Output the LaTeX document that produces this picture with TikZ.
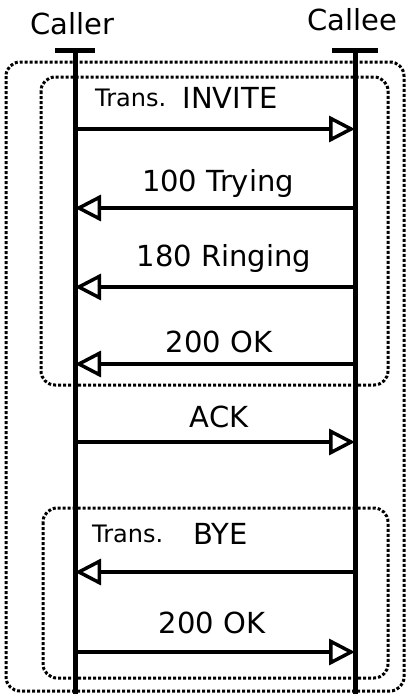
\documentclass[tikz,border=0pt]{standalone}
\usepackage{fontspec}
\setmainfont{DejaVu Sans}
\usetikzlibrary{arrows.meta, positioning}

\begin{document}
\begin{tikzpicture}[x=1pt, y=-1pt,
        life/.style={line width=5pt},
        msg/.style={line width=3.5pt, -{Triangle[open, length=26pt, width=26pt, line width=3.5pt]}},
        trans/.style={line width=3pt, dash pattern=on 3pt off 2pt, rounded corners=14pt},
        lbl/.style={inner sep=0pt, font=\fontsize{29}{34}\selectfont},
        small/.style={inner sep=0pt, font=\fontsize{24}{28}\selectfont}]
        \useasboundingbox (0,0) rectangle (407,694);

        % transaction boxes
        \draw[trans] (6,62) rectangle (404,691);
        \draw[trans] (41,77) rectangle (388,385);
        \draw[trans] (43,508) rectangle (388,678);

        % actors and lifelines
        \node[lbl] (caller) at (72,24) {Caller};
        \node[lbl] (callee) at (352,20) {Callee};
        \coordinate (ca) at (75,50);
        \coordinate (ce) at (355,50);
        \coordinate (caend) at (75,694);
        \coordinate (ceend) at (355,694);
        \draw[life] ([xshift=-20pt]ca) -- ([xshift=20pt]ca);
        \draw[life] ([xshift=-23pt]ce) -- ([xshift=23pt]ce);
        \draw[life] (ca) -- (caend);
        \draw[life] (ce) -- (ceend);

        % message ends
        \coordinate (a1) at (75,129);  \coordinate (b1) at (355,129);
        \coordinate (a2) at (75,208);  \coordinate (b2) at (355,208);
        \coordinate (a3) at (75,287);  \coordinate (b3) at (355,287);
        \coordinate (a4) at (75,364);  \coordinate (b4) at (355,364);
        \coordinate (a5) at (75,442);  \coordinate (b5) at (355,442);
        \coordinate (a6) at (75,572);  \coordinate (b6) at (355,572);
        \coordinate (a7) at (75,652);  \coordinate (b7) at (355,652);

        \draw[msg] (a1) -- (b1);
        \draw[msg] (b2) -- (a2);
        \draw[msg] (b3) -- (a3);
        \draw[msg] (b4) -- (a4);
        \draw[msg] (a5) -- (b5);
        \draw[msg] (b6) -- (a6);
        \draw[msg] (a7) -- (b7);

        % labels
        \node[small, anchor=west] (t1) at (95,98) {Trans.};
        \node[lbl, anchor=west] (invite) [right=16pt of t1] {INVITE};
        \node[lbl] (trying) at (218,183) {100 Trying};
        \node[lbl] (ringing) at (224,258) {180 Ringing};
        \node[lbl] (ok1) at (219,342) {200 OK};
        \node[lbl] (ack) at (219,417) {ACK};
        \node[small, anchor=west] (t2) at (92,534) {Trans.};
        \node[lbl, anchor=west] (bye) [right=30pt of t2] {BYE};
        \node[lbl] (ok2) at (212,623) {200 OK};
\end{tikzpicture}
\end{document}
